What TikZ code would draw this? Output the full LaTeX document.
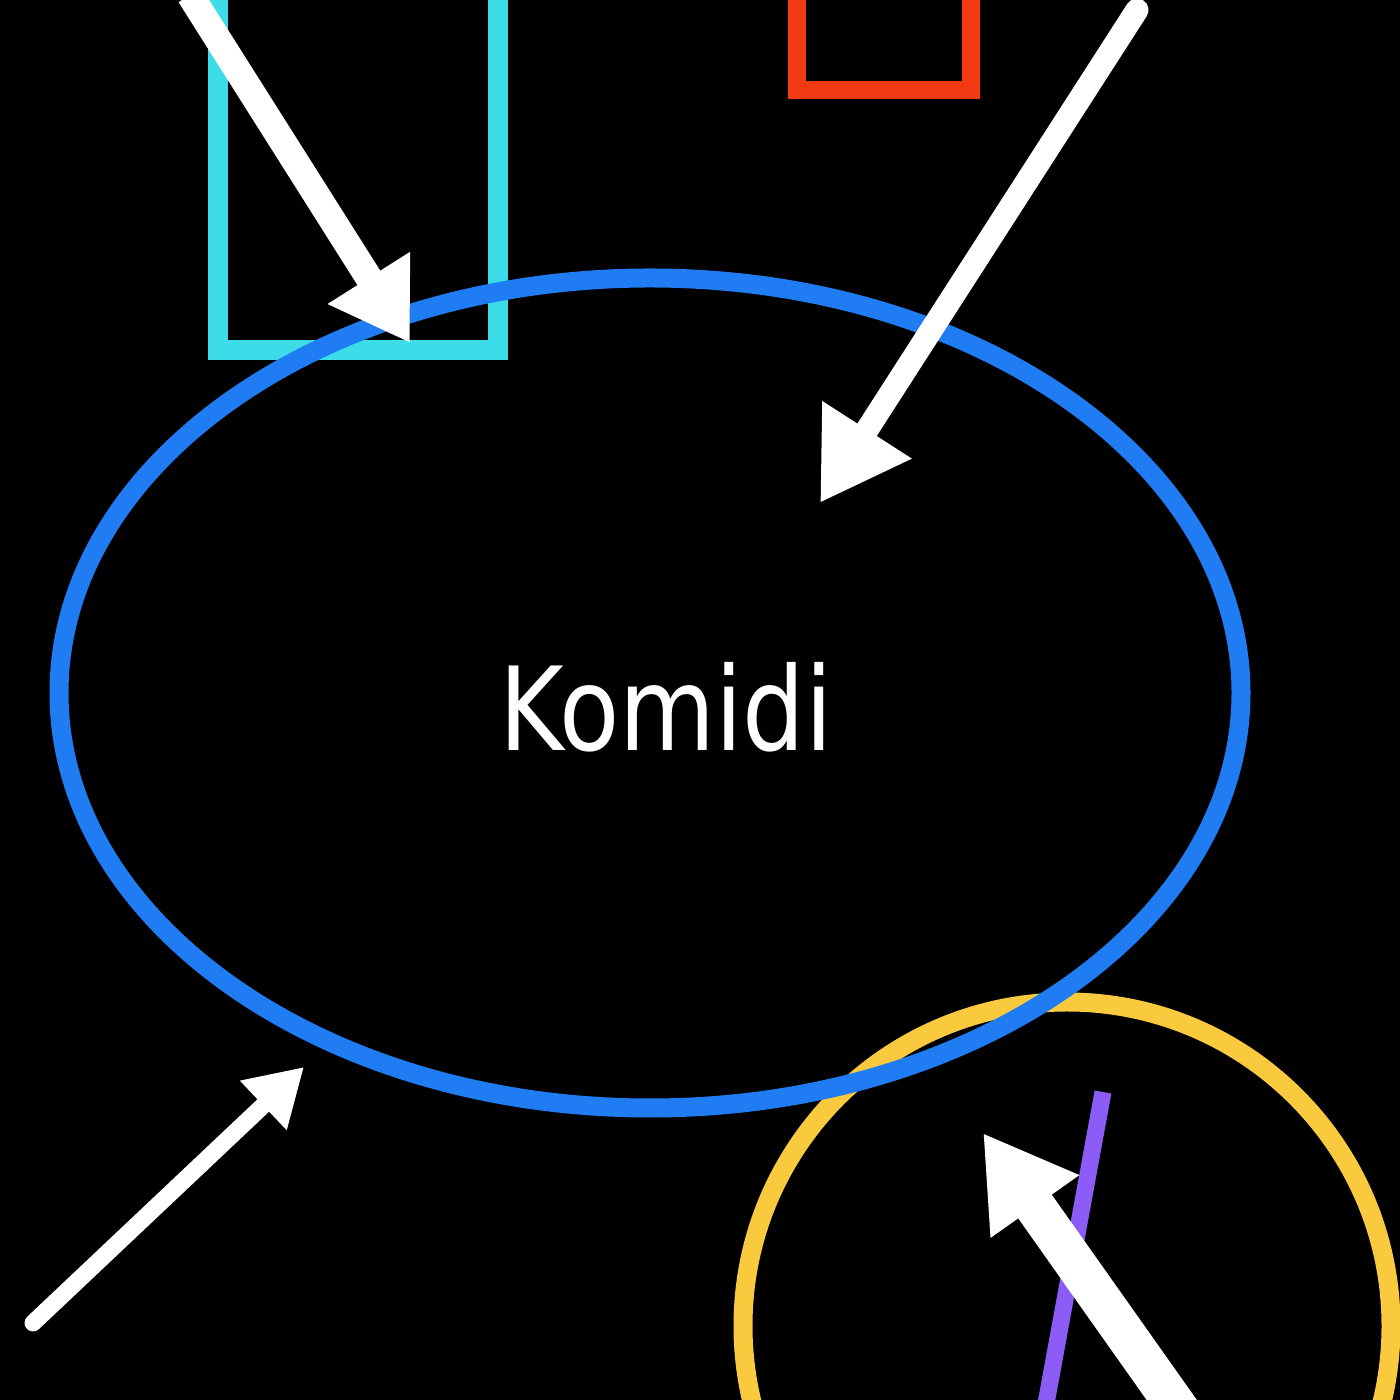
\documentclass[tikz,border=0pt]{standalone}
\usepackage{fontspec}
\newfontfamily\komfont[FakeStretch=0.85]{DejaVu Sans}
\usetikzlibrary{arrows.meta}
\definecolor{komblue}{HTML}{1F7CF2}
\definecolor{komcyan}{HTML}{3CDDE8}
\definecolor{komred}{HTML}{F23A12}
\definecolor{komyellow}{HTML}{F9C93E}
\definecolor{kompurple}{HTML}{8B5CF6}
\tikzset{
	pointer/.style n args={2}{white, -{Triangle[length=#1, width=#2]}},
}
\begin{document}
\begin{tikzpicture}
			\useasboundingbox (0, 0) rectangle (14, 14);
			\fill[black]	(0, 0) rectangle (14, 14);

			\draw[komcyan, line width=0.20cm]	(2.18, 14.3) -- (2.18, 10.50) -- (4.98, 10.50) -- (4.98, 14.3);
			\draw[komred, line width=0.18cm]	(7.97, 14.3) -- (7.97, 13.10) -- (9.71, 13.10) -- (9.71, 14.3);
			\draw[komyellow, line width=0.19cm]	(10.67, 0.74) circle (3.24);
			\draw[komblue, line width=0.19cm]	(6.50, 7.07) ellipse (5.91 and 4.15);
			\draw[kompurple, line width=0.17cm]	(11.03, 3.08) -- (10.43, -0.2);

			\node[white, font=\komfont\fontsize{33}{38}\selectfont] (komidi) at (6.66, 6.93) {Komidi};

			\coordinate (cyanTail)		at (1.90, 14.05);
			\coordinate (cyanTip)		at (4.10, 10.57);
			\coordinate (redTail)		at (11.37, 13.90);
			\coordinate (redTip)		at (8.20, 8.97);
			\coordinate (lowTail)		at (0.33, 0.77);
			\coordinate (lowTip)		at (3.04, 3.33);
			\coordinate (ringTail)		at (12.00, -0.40);
			\coordinate (ringTip)		at (9.83, 2.67);

			\draw[pointer={0.77cm}{0.92cm}, line width=0.27cm]	(cyanTail) -- (cyanTip);
			\draw[pointer={0.87cm}{1.00cm}, line width=0.23cm, line cap=round]	(redTail) -- (redTip);
			\draw[pointer={0.56cm}{0.64cm}, line width=0.17cm, line cap=round]	(lowTail) -- (lowTip);
			\draw[pointer={0.90cm}{1.02cm}, line width=0.41cm]	(ringTail) -- (ringTip);
		\end{tikzpicture}
\end{document}
